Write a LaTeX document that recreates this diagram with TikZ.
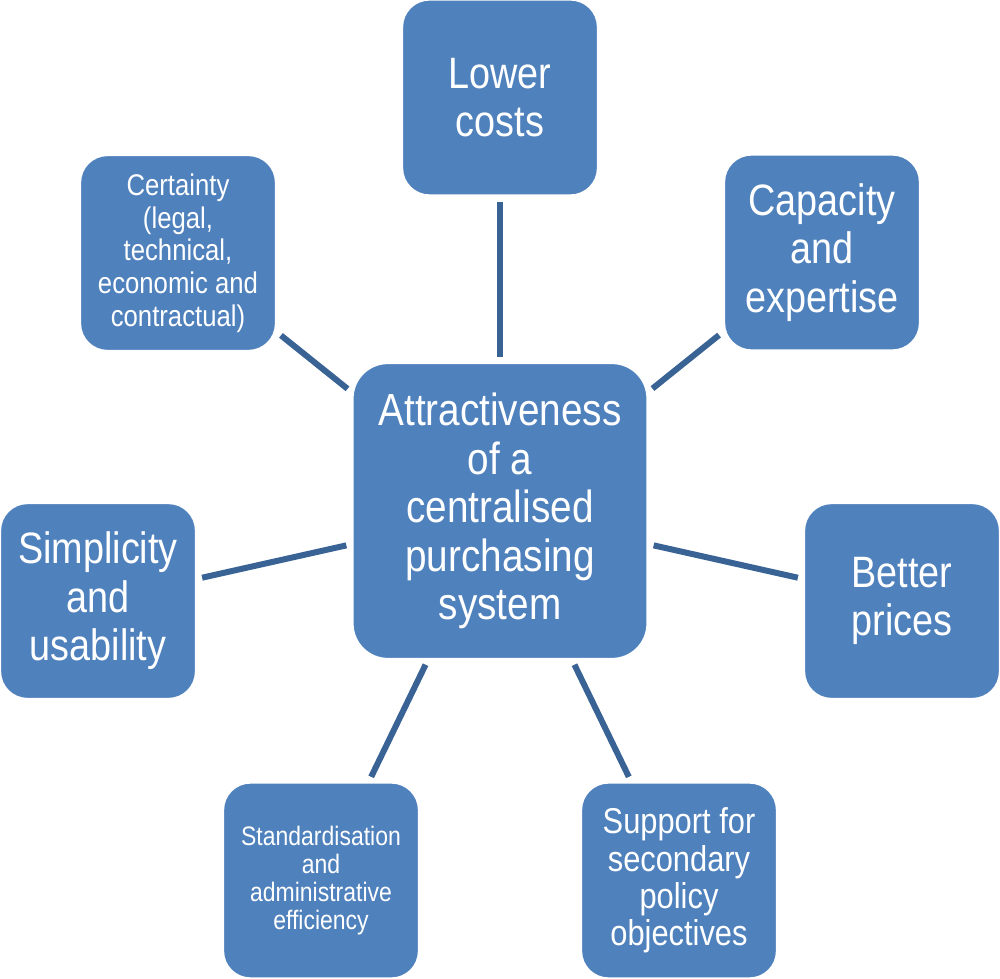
\documentclass[tikz,border=0pt]{standalone}
\usepackage{fontspec}
\setmainfont[FakeStretch=0.86]{Liberation Sans}
\definecolor{boxblue}{HTML}{4F81BD}
\definecolor{lineblue}{HTML}{3A6395}
\begin{document}
\begin{tikzpicture}[x=0.01cm,y=-0.01cm,
  box/.style={rectangle, rounded corners=0.27cm, fill=boxblue, draw=white, line width=0.4pt,
    minimum width=1.95cm, minimum height=1.95cm, align=center, text=white, inner sep=0pt},
  hub/.style={box, rounded corners=0.35cm, minimum width=2.94cm, minimum height=2.95cm},
  hubtext/.style={font=\fontsize{12.8}{13.8}\selectfont},
  bigtext/.style={font=\fontsize{12.5}{13.8}\selectfont},
  midtext/.style={font=\fontsize{10.2}{10.6}\selectfont},
  smalltext/.style={font=\fontsize{8.5}{9.3}\selectfont},
  tinytext/.style={font=\fontsize{7.6}{8}\selectfont},
  link/.style={draw=lineblue, line width=0.06cm, shorten <=0.06cm, shorten >=0.06cm}]
\useasboundingbox (0,0) rectangle (1000,979);
\node[hub, hubtext] (c) at (500,511) {Attractiveness\\of a\\centralised\\purchasing\\system};
\node[box, bigtext] (lc) at (500,97.5) {Lower\\costs};
\node[box, bigtext] (cap) at (822,252.5) {Capacity\\and\\expertise};
\node[box, bigtext] (bp) at (902,601) {Better\\prices};
\node[box, midtext] (sup) at (679,880.5) {Support for\\secondary\\policy\\objectives};
\node[box, tinytext] (std) at (321,880.5) {Standardisation\\and\\administrative\\efficiency};
\node[box, bigtext] (sim) at (98,601) {Simplicity\\and\\usability};
\node[box, smalltext] (cer) at (178,253) {Certainty\\(legal,\\technical,\\economic and\\contractual)};
\foreach \n in {lc,cap,bp,sup,std,sim,cer}
  \draw[link] (c) -- (\n);
\end{tikzpicture}
\end{document}
